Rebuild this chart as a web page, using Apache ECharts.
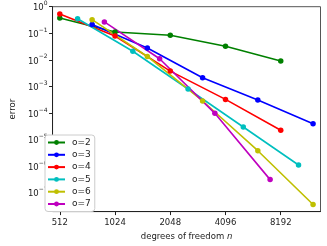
<!DOCTYPE html>
<html>
<head>
<meta charset="utf-8">
<script src="https://cdn.jsdelivr.net/npm/echarts@6/dist/echarts.min.js"></script>
<style>html,body{margin:0;padding:0;background:#fff}#c{width:327px;height:246px}</style>
</head>
<body>
<div id="c"></div>
<script>
// ---- data ----
const seriesNames = ['o=2', 'o=3', 'o=4', 'o=5', 'o=6', 'o=7'];
const xTickValues = [512, 1024, 2048, 4096, 8192];
const yTickValues = [1, 1e-1, 1e-2, 1e-3, 1e-4, 1e-5, 1e-6, 1e-7];

const dofO2 = [512, 1024, 2048, 4096, 8192];
const errO2 = [0.375, 0.111, 0.084, 0.0323, 0.0091];
const dofO3 = [768, 1536, 3072, 6144, 12288];
const errO3 = [0.213, 0.028, 0.00212, 3.08e-4, 3.92e-5];
const dofO4 = [512, 1024, 2048, 4096, 8192];
const errO4 = [0.526, 0.079, 0.00377, 3.24e-4, 2.24e-5];
const dofO5 = [640, 1280, 2560, 5120, 10240];
const errO5 = [0.353, 0.0211, 8.0e-4, 2.96e-5, 1.1e-6];
const dofO6 = [768, 1536, 3072, 6144, 12288];
const errO6 = [0.325, 0.0134, 2.83e-4, 3.8e-6, 3.6e-8];
const dofO7 = [896, 1792, 3584, 7168];
const errO7 = [0.267, 0.011, 9.7e-5, 3.1e-7];

const colors = ['#008000', '#0000ff', '#ff0000', '#00bfbf', '#bfbf00', '#bf00bf'];
const dofs = [dofO2, dofO3, dofO4, dofO5, dofO6, dofO7];
const errs = [errO2, errO3, errO4, errO5, errO6, errO7];

const font = 'DejaVu Sans';
const chart = echarts.init(document.getElementById('c'), null, {renderer: 'canvas'});

const series = seriesNames.map((name, k) => ({
  name: name,
  type: 'line',
  data: dofs[k].map((n, i) => [n, errs[k][i]]),
  symbol: 'circle',
  symbolSize: 5.5,
  showSymbol: true,
  color: colors[k],
  lineStyle: {width: 1.6, color: colors[k]},
  itemStyle: {color: colors[k]},
  emphasis: {disabled: true},
  animation: false
}));

chart.setOption({
  animation: false,
  grid: {left: 40.5, top: 6.7, width: 280, height: 210, show: true, borderColor: '#555', borderWidth: 1, containLabel: false},
  legend: {
    orient: 'vertical',
    left: 45, top: 135,
    padding: [1.5, 4, 1.5, 2],
    itemWidth: 17, itemHeight: 6, itemGap: 0.3,
    backgroundColor: '#fff',
    borderColor: '#ccc', borderWidth: 1, borderRadius: 3,
    textStyle: {fontFamily: font, fontSize: 9, color: '#222', lineHeight: 12, padding: [0, 0, 0, 2]},
    data: seriesNames
  },
  xAxis: {
    type: 'log',
    logBase: 2,
    min: 467.6,
    max: 13490,
    name: 'degrees of freedom {i|n}',
    nameLocation: 'middle',
    nameGap: 19,
    nameTextStyle: {fontFamily: font, fontSize: 8.5, color: '#222',
      rich: {i: {fontStyle: 'italic', fontFamily: font, fontSize: 8.5, color: '#222'}}},
    axisLine: {show: true, lineStyle: {color: '#222', width: 1}},
    axisTick: {show: true, length: 3.5, lineStyle: {color: '#222'}, customValues: xTickValues},
    axisLabel: {fontFamily: font, fontSize: 8.5, color: '#222', margin: 6.5, customValues: xTickValues,
      formatter: v => String(Math.round(v))},
    minorTick: {show: false},
    splitLine: {show: false}
  },
  yAxis: {
    type: 'log',
    logBase: 10,
    min: 1.94e-8,
    max: 1,
    name: 'error',
    nameLocation: 'middle',
    nameGap: 33,
    nameRotate: 90,
    nameTextStyle: {fontFamily: font, fontSize: 8.5, color: '#222'},
    axisLine: {show: true, lineStyle: {color: '#222', width: 1}},
    axisTick: {show: true, length: 3.5, lineStyle: {color: '#222'}, customValues: yTickValues},
    axisLabel: {
      customValues: yTickValues,
      fontFamily: font, fontSize: 8.5, color: '#222', margin: 5,
      formatter: v => {
        const e = Math.round(Math.log10(v));
        const s = e < 0 ? '\u2212' + (-e) : String(e);
        return '{b|10}{s|' + s + '}';
      },
      rich: {
        b: {fontFamily: font, fontSize: 8.5, color: '#222', verticalAlign: 'bottom', lineHeight: 12},
        s: {fontFamily: font, fontSize: 6, color: '#222', verticalAlign: 'top', lineHeight: 12, padding: [0, 0, 4, 0]}
      }
    },
    minorTick: {show: false},
    splitLine: {show: false}
  },
  series: series
});
</script>
</body>
</html>
